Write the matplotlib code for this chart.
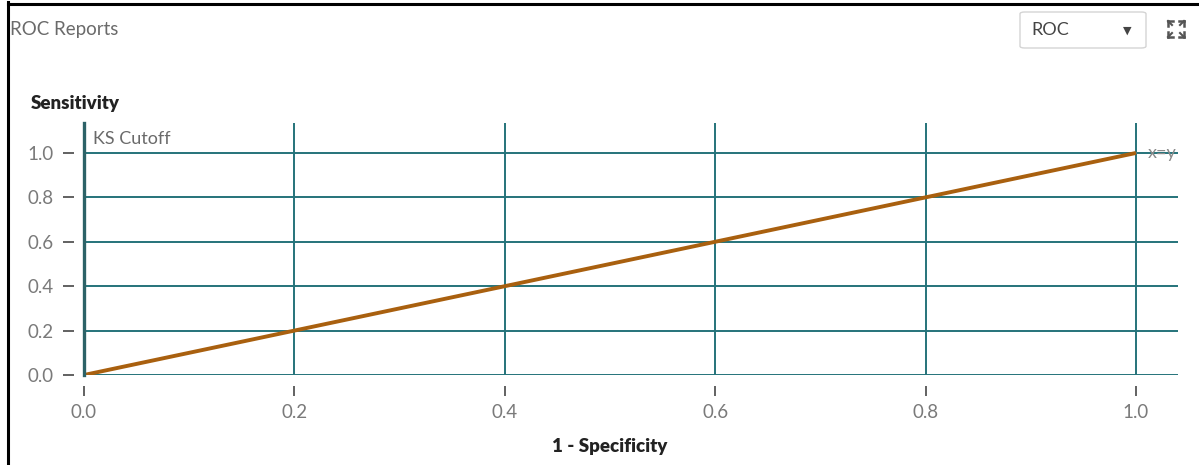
import matplotlib
matplotlib.use("Agg")
import matplotlib.pyplot as plt
from matplotlib.patches import FancyBboxPatch
from matplotlib.lines import Line2D

# ROC data
fpr = [0.0, 1.0]
tpr = [0.0, 1.0]
ref_x = [0.0, 1.0]
ref_y = [0.0, 1.0]
ks_cutoff = 0.0
x_ticks = [0.0, 0.2, 0.4, 0.6, 0.8, 1.0]
y_ticks = [0.0, 0.2, 0.4, 0.6, 0.8, 1.0]
x_tick_labels = ["0.0", "0.2", "0.4", "0.6", "0.8", "1.0"]
y_tick_labels = ["0.0", "0.2", "0.4", "0.6", "0.8", "1.0"]

plt.rcParams["font.family"] = ["Lato", "DejaVu Sans"]

W, H = 1199, 465
fig = plt.figure(figsize=(W / 100, H / 100), dpi=100)
fig.patch.set_facecolor("white")


def fx(px):
    return px / W


def fy(py):
    return 1 - py / H


# plot area in pixel coordinates
left, right, top, bottom = 84, 1178, 123, 375
ax = fig.add_axes([fx(left), fy(bottom), fx(right - left), (bottom - top) / H])
ax.set_xlim(0, 1.04)
ax.set_ylim(0, 1.135)
ax.set_facecolor("white")

grid_c = "#25737a"
for y in y_ticks:
    ax.axhline(y, color=grid_c, lw=1.4, zorder=1)
for x in x_ticks[1:]:
    ax.axvline(x, color=grid_c, lw=1.4, zorder=1)

# reference diagonal and ROC curve
ax.plot(ref_x, ref_y, color="#8a8a8a", lw=1.0, zorder=2)
ax.plot(fpr, tpr, color="#a9600f", lw=2.8, zorder=3, solid_capstyle="butt")

# KS cutoff marker
ax.axvline(ks_cutoff, color="#2c6267", lw=2.4, zorder=4, clip_on=False)
ax.text(ks_cutoff + 0.009, 1.062, "KS Cutoff", color="#6a6a6a", fontsize=13,
        ha="left", va="center")
ax.text(1.0 + 0.011, 1.0, "x=y", color="#8a8a8a", fontsize=13,
        ha="left", va="center", clip_on=False)

for s in ax.spines.values():
    s.set_visible(False)
ax.spines["left"].set_position(("outward", 7))
ax.spines["bottom"].set_position(("outward", 8))

ax.set_xticks(x_ticks)
ax.set_xticklabels(x_tick_labels)
ax.set_yticks(y_ticks)
ax.set_yticklabels(y_tick_labels)
ax.tick_params(axis="both", colors="#555555", labelcolor="#7a7a7a",
               labelsize=13.5, width=1.3)
ax.tick_params(axis="y", length=8, pad=7)
ax.tick_params(axis="x", length=7, pad=6)

# axis titles
fig.text(fx(31), fy(104), "Sensitivity", fontsize=13.5, fontweight="heavy",
         color="#222222", ha="left", va="center")
fig.text(fx(left + 0.5 * (right - left) / 1.04), fy(446), "1 - Specificity",
         fontsize=13.5, fontweight="heavy", color="#222222",
         ha="center", va="center")

# panel header
fig.text(fx(10), fy(30), "ROC Reports", fontsize=13.5, color="#6a6a6a",
         ha="left", va="center")

# selector box
box = FancyBboxPatch((fx(1020), fy(48)), fx(126), (48 - 12) / H,
                     boxstyle="round,pad=0,rounding_size=0.004",
                     transform=fig.transFigure, facecolor="white",
                     edgecolor="#d4d4d4", lw=1.0)
fig.patches.append(box)
fig.text(fx(1031), fy(30), "ROC", fontsize=13, color="#444444",
         ha="left", va="center")
fig.text(fx(1127), fy(31), "\u25bc", fontsize=8, color="#444444",
         ha="center", va="center", family="DejaVu Sans")

# expand icon: four outward corner arrows
cx, cy, d, a = 1176, 29, 8, 5
icon_c = "#555555"
for sx in (-1, 1):
    for sy in (-1, 1):
        ox, oy = cx + sx * d, cy + sy * d
        fig.add_artist(Line2D([fx(ox), fx(ox - sx * a)], [fy(oy), fy(oy)],
                              transform=fig.transFigure, color=icon_c, lw=1.8))
        fig.add_artist(Line2D([fx(ox), fx(ox)], [fy(oy), fy(oy - sy * a)],
                              transform=fig.transFigure, color=icon_c, lw=1.8))
        fig.add_artist(Line2D([fx(ox), fx(ox - sx * 4)], [fy(oy), fy(oy - sy * 4)],
                              transform=fig.transFigure, color=icon_c, lw=1.5))

# frame edges
fig.add_artist(Line2D([fx(8), fx(8)], [fy(2), 0], transform=fig.transFigure,
                      color="black", lw=2.2))
fig.add_artist(Line2D([fx(8), 1], [fy(4), fy(4)], transform=fig.transFigure,
                      color="black", lw=2.2))

fig.savefig("out.png", dpi=100, facecolor="white")
